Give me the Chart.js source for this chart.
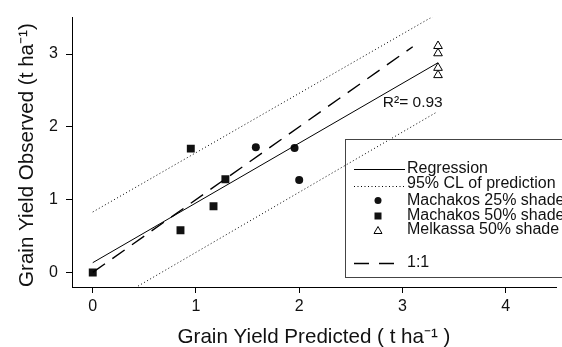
<!DOCTYPE html>
<html>
<head>
<meta charset="utf-8">
<script src="https://cdn.jsdelivr.net/npm/chart.js@4/dist/chart.umd.min.js"></script>
<style>
  html, body { margin: 0; padding: 0; background: #fff; }
  canvas { display: block; }
</style>
</head>
<body>
<canvas id="c" width="562" height="347"></canvas>
<script>
// ---- data ----
const xTickValues = [0, 1, 2, 3, 4];
const xTickLabels = ['0', '1', '2', '3', '4'];
const yTickValues = [0, 1, 2, 3];
const yTickLabels = ['0', '1', '2', '3'];

const mach25X = [1.58, 1.955, 2.0];
const mach25Y = [1.72, 1.71, 1.27];
const mach50X = [0, 0.85, 0.95, 1.17, 1.285];
const mach50Y = [0, 0.58, 1.70, 0.91, 1.28];
const melkX = [3.345, 3.345, 3.345, 3.345];
const melkY = [3.11, 3.01, 2.81, 2.71];

const regX = [0, 3.345];
const regY = [0.134, 2.88];
const ciUpX = [0, 3.35];
const ciUpY = [0.83, 3.56];
const ciLoX = [0, 3.33];
const ciLoY = [-0.55, 2.2];
const oneX = [0, 3.1];
const oneY = [0, 3.1];

const legendLabels = ['Regression', '95% CL of prediction', 'Machakos 25% shade',
                      'Machakos 50% shade', 'Melkassa 50% shade', '1:1'];
const r2Label = 'R\u00B2= 0.93';
const r2Pos = { x: 2.81, y: 2.277 };

const xTitle = 'Grain Yield Predicted ( t ha\u207B\u00B9 )';
const yTitle = 'Grain Yield Observed (t ha\u207B\u00B9)';

const FONT = "'Liberation Sans', Arial, sans-serif";
const pts = (xs, ys) => xs.map((x, i) => ({ x, y: ys[i] }));

const lineDs = (label, xs, ys, extra) => Object.assign({
  label, data: pts(xs, ys), showLine: true, pointRadius: 0,
  borderColor: '#000', borderWidth: 1, fill: false
}, extra);

const legendPlugin = {
  id: 'boxLegend',
  afterDraw(chart) {
    const ctx = chart.ctx;
    ctx.save();
    // box
    ctx.strokeStyle = '#444';
    ctx.lineWidth = 1;
    ctx.strokeRect(345.5, 139.5, 260, 138);
    ctx.fillStyle = '#111';
    ctx.font = '16px ' + FONT;
    ctx.textBaseline = 'middle';
    ctx.textAlign = 'left';
    const tx = 407;
    const rows = [169, 184, 200.5, 215.5, 230, 263];
    legendLabels.forEach((t, i) => ctx.fillText(t, tx, rows[i]));
    // samples
    ctx.strokeStyle = '#000';
    ctx.lineWidth = 1;
    ctx.beginPath(); ctx.moveTo(354, 169.5); ctx.lineTo(405, 169.5); ctx.stroke();
    ctx.setLineDash([1, 2.5]);
    ctx.beginPath(); ctx.moveTo(354, 186.5); ctx.lineTo(405, 186.5); ctx.stroke();
    ctx.setLineDash([15, 10]);
    ctx.lineWidth = 1.3;
    ctx.beginPath(); ctx.moveTo(354, 263.5); ctx.lineTo(396, 263.5); ctx.stroke();
    ctx.setLineDash([]);
    // symbols
    ctx.fillStyle = '#111';
    ctx.beginPath(); ctx.arc(378, 200.5, 3.5, 0, Math.PI * 2); ctx.fill();
    ctx.fillRect(374.5, 212.5, 7, 7);
    ctx.fillStyle = '#fff';
    ctx.lineWidth = 1;
    ctx.beginPath(); ctx.moveTo(378, 226.5); ctx.lineTo(382, 233.5); ctx.lineTo(374, 233.5); ctx.closePath();
    ctx.fill(); ctx.stroke();
    // R2 annotation
    const xs = chart.scales.x, ys = chart.scales.y;
    ctx.fillStyle = '#111';
    ctx.font = '15.5px ' + FONT;
    ctx.textBaseline = 'alphabetic';
    ctx.fillText(r2Label, xs.getPixelForValue(r2Pos.x), ys.getPixelForValue(r2Pos.y));
    ctx.restore();
  }
};

new Chart(document.getElementById('c'), {
  type: 'scatter',
  data: {
    datasets: [
      lineDs('95% CL upper', ciUpX, ciUpY, { borderDash: [1, 2.5] }),
      lineDs('95% CL lower', ciLoX, ciLoY, { borderDash: [1, 2.5] }),
      lineDs('1:1', oneX, oneY, { borderDash: [15, 9], borderWidth: 1.4 }),
      lineDs('Regression', regX, regY, {}),
      { label: 'Machakos 25% shade', data: pts(mach25X, mach25Y), pointStyle: 'circle',
        pointRadius: 4, backgroundColor: '#111', borderColor: '#111', borderWidth: 0 },
      { label: 'Machakos 50% shade', data: pts(mach50X, mach50Y), pointStyle: 'rect',
        pointRadius: 5.6, backgroundColor: '#111', borderColor: '#111', borderWidth: 0 },
      { label: 'Melkassa 50% shade', data: pts(melkX, melkY), pointStyle: 'triangle',
        pointRadius: 5, backgroundColor: '#fff', borderColor: '#000', borderWidth: 1 }
    ]
  },
  options: {
    responsive: false,
    animation: false,
    devicePixelRatio: 1,
    layout: { padding: { top: 12, left: 0, right: 0, bottom: 0 } },
    plugins: { legend: { display: false }, tooltip: { enabled: false } },
    scales: {
      x: {
        type: 'linear', min: -0.201, max: 4.488,
        afterBuildTicks: a => { a.ticks = xTickValues.map(v => ({ value: v })); },
        afterFit: s => { s.height = 60; },
        ticks: { color: '#111', padding: 4, font: { family: FONT, size: 16 },
                 callback: v => xTickLabels[xTickValues.indexOf(v)] },
        grid: { drawOnChartArea: false, drawTicks: true, tickLength: 6, color: '#000' },
        border: { display: true, color: '#000', width: 1 },
        title: { display: true, text: xTitle, color: '#111',
                 font: { family: FONT, size: 20.6, lineHeight: 1 }, padding: { top: 0, bottom: -0.5 } }
      },
      y: {
        type: 'linear', min: -0.2, max: 3.5,
        afterBuildTicks: a => { a.ticks = yTickValues.map(v => ({ value: v })); },
        afterFit: s => { s.width = 72; },
        ticks: { color: '#111', padding: 8, font: { family: FONT, size: 16 },
                 callback: v => yTickLabels[yTickValues.indexOf(v)] },
        grid: { drawOnChartArea: false, drawTicks: true, tickLength: 6, color: '#000' },
        border: { display: true, color: '#000', width: 1 },
        title: { display: true, text: yTitle, color: '#111', align: 'start',
                 font: { family: FONT, size: 20.6, lineHeight: 1 }, padding: { top: 16.7, bottom: 0 } }
      }
    }
  },
  plugins: [legendPlugin]
});
</script>
</body>
</html>
